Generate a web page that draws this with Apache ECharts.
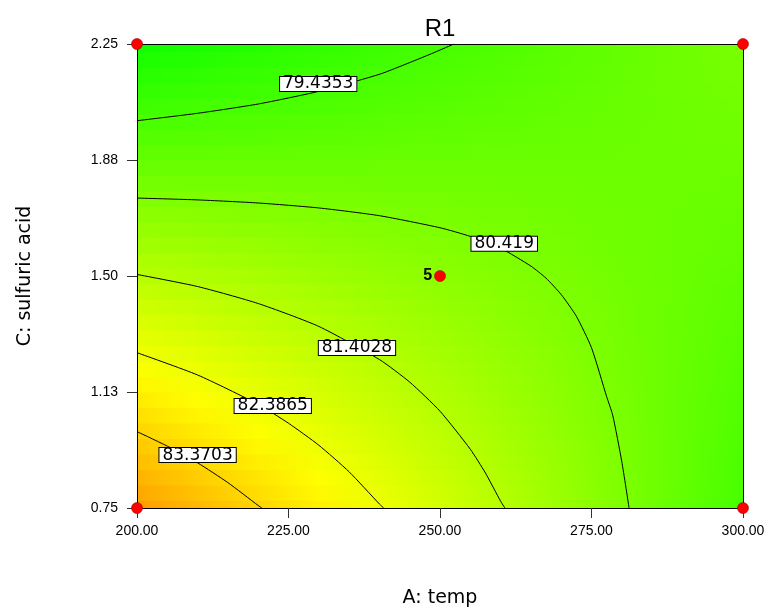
<!DOCTYPE html>
<html><head><meta charset="utf-8">
<script src="https://cdn.jsdelivr.net/npm/echarts@6/dist/echarts.min.js"></script>
<style>html,body{margin:0;padding:0;background:#fff}#c{width:775px;height:609px}</style>
</head><body><div id="c"></div>
<script>
// ---- data ----
const tempValues = [200,210,220,230,240,250,260,270,280,290,300];
const acidValues = [0.75,0.80,0.85,0.90,0.95,1.00,1.05,1.10,1.15,1.20,1.25,1.30,1.35,1.40,1.45,1.50,1.55,1.60,1.65,1.70,1.75,1.80,1.85,1.90,1.95,2.00,2.05,2.10,2.15,2.20,2.25];
// R1 estimated at each (acid row, temp column)
const r1Grid = [
 [84.38,83.89,83.40,82.91,82.41,81.92,81.43,80.94,80.45,79.95,79.46],
 [84.19,83.72,83.25,82.78,82.31,81.84,81.37,80.90,80.43,79.96,79.49],
 [83.99,83.54,83.10,82.65,82.20,81.76,81.31,80.86,80.41,79.97,79.52],
 [83.80,83.37,82.95,82.52,82.10,81.67,81.25,80.82,80.40,79.98,79.55],
 [83.60,83.20,82.80,82.39,81.99,81.59,81.19,80.79,80.39,79.98,79.58],
 [83.40,83.02,82.65,82.27,81.89,81.51,81.13,80.75,80.37,79.99,79.61],
 [83.21,82.85,82.50,82.14,81.78,81.42,81.07,80.71,80.35,80.00,79.64],
 [83.01,82.68,82.35,82.01,81.68,81.34,81.01,80.67,80.34,80.00,79.67],
 [82.82,82.51,82.19,81.88,81.57,81.26,80.95,80.64,80.32,80.01,79.70],
 [82.62,82.33,82.04,81.76,81.47,81.18,80.89,80.60,80.31,80.02,79.73],
 [82.43,82.16,81.89,81.63,81.36,81.09,80.83,80.56,80.29,80.03,79.76],
 [82.23,81.99,81.74,81.50,81.25,81.01,80.77,80.52,80.28,80.03,79.79],
 [82.04,81.82,81.59,81.37,81.15,80.93,80.71,80.48,80.26,80.04,79.82],
 [81.84,81.64,81.44,81.24,81.05,80.85,80.65,80.45,80.25,80.05,79.85],
 [81.65,81.47,81.29,81.12,80.94,80.76,80.59,80.41,80.23,80.06,79.88],
 [81.45,81.30,81.14,80.99,80.83,80.68,80.53,80.37,80.22,80.06,79.91],
 [81.26,81.12,80.99,80.86,80.73,80.60,80.47,80.33,80.20,80.07,79.94],
 [81.06,80.95,80.84,80.73,80.62,80.51,80.40,80.30,80.19,80.08,79.97],
 [80.87,80.78,80.69,80.61,80.52,80.43,80.35,80.26,80.17,80.09,80.00],
 [80.67,80.61,80.54,80.48,80.41,80.35,80.29,80.22,80.16,80.09,80.03],
 [80.47,80.43,80.39,80.35,80.31,80.27,80.22,80.18,80.14,80.10,80.06],
 [80.28,80.26,80.24,80.22,80.20,80.18,80.16,80.15,80.13,80.11,80.09],
 [80.08,80.09,80.09,80.09,80.10,80.10,80.10,80.11,80.11,80.11,80.12],
 [79.89,79.91,79.94,79.97,79.99,80.02,80.04,80.07,80.10,80.12,80.15],
 [79.69,79.74,79.79,79.84,79.89,79.94,79.98,80.03,80.08,80.13,80.18],
 [79.50,79.57,79.64,79.71,79.78,79.85,79.92,80.00,80.07,80.14,80.21],
 [79.30,79.40,79.49,79.58,79.68,79.77,79.86,79.96,80.05,80.14,80.24],
 [79.11,79.22,79.34,79.46,79.57,79.69,79.80,79.92,80.04,80.15,80.27],
 [78.91,79.05,79.19,79.33,79.47,79.61,79.74,79.88,80.02,80.16,80.30],
 [78.72,78.88,79.04,79.20,79.36,79.52,79.68,79.84,80.00,80.17,80.33],
 [78.52,78.70,78.89,79.07,79.26,79.44,79.62,79.81,79.99,80.17,80.36]
];
// contour lines [temp, acid]
const contourLevels = ['79.4353','80.419','81.4028','82.3865','83.3703'];
const contour1 = [[200,2.002],[210,2.026],[220,2.056],[230,2.097],[240,2.152],[245,2.190],[249,2.222],[252.3,2.25]];
const contour2 = [[200,1.752],[210,1.746],[220,1.736],[230,1.720],[240,1.695],[250,1.656],[255,1.628],[260,1.590],[265,1.532],[267.5,1.493],[270,1.440],[272.5,1.370],[275,1.268],[277.5,1.110],[278.5,1.05],[280.0,0.90],[281.2,0.75]];
const contour3 = [[200,1.505],[210,1.466],[220,1.411],[230,1.337],[240,1.230],[245,1.157],[250,1.063],[255,0.940],[257.5,0.863],[260,0.772],[260.7,0.75]];
const contour4 = [[200,1.252],[210,1.180],[220,1.085],[225,1.024],[230,0.953],[235,0.867],[240,0.763],[240.7,0.75]];
const contour5 = [[200,0.997],[205,0.950],[210,0.896],[215,0.832],[220,0.758],[220.6,0.75]];
const contourLabelPos = [[229.9,2.121],[260.6,1.604],[236.3,1.267],[222.4,1.080],[210.0,0.921]];
// design points
const designTemp = [200,200,300,300,250];
const designAcid = [0.75,2.25,0.75,2.25,1.50];
const designLabel = ['','','','','5'];
// ticks
const xTickLabels = ['200.00','225.00','250.00','275.00','300.00'];
const yTickLabels = ['0.75','1.13','1.50','1.88','2.25'];

// ---- colour scale (styling) ----
const scaleVals = [73.8, 78.24, 82.67, 87.1];
const scaleCols = [[0,255,255],[0,255,0],[255,255,0],[255,0,0]];
function colorFor(v){
  if (v <= scaleVals[0]) return 'rgb(' + scaleCols[0].join(',') + ')';
  for (let i = 1; i < scaleVals.length; i++) {
    if (v <= scaleVals[i]) {
      const t = (v - scaleVals[i-1]) / (scaleVals[i] - scaleVals[i-1]);
      const a = scaleCols[i-1], b = scaleCols[i];
      return 'rgb(' + [0,1,2].map(n => Math.round(a[n] + (b[n]-a[n]) * t)).join(',') + ')';
    }
  }
  return 'rgb(' + scaleCols[scaleCols.length-1].join(',') + ')';
}

const t0 = tempValues[0], tN = tempValues[tempValues.length-1];
function renderStrip(params, api){
  const k = api.value(2);
  const c = acidValues[k];
  const cLo = k > 0 ? (acidValues[k-1] + c) / 2 : c;
  const cHi = k < acidValues.length - 1 ? (acidValues[k+1] + c) / 2 : c;
  const p0 = api.coord([t0, cHi]);
  const p1 = api.coord([tN, cLo]);
  const row = r1Grid[k];
  const stops = row.map((v, j) => ({offset: (tempValues[j] - t0) / (tN - t0), color: colorFor(v)}));
  return {
    type: 'rect',
    shape: {x: p0[0], y: p0[1] - 0.6, width: p1[0] - p0[0], height: p1[1] - p0[1] + 1.2},
    style: {fill: {type: 'linear', x: 0, y: 0, x2: 1, y2: 0, colorStops: stops, global: false}, stroke: null}
  };
}

const chart = echarts.init(document.getElementById('c'), null, {renderer: 'canvas'});
const contourSeries = [contour1, contour2, contour3, contour4, contour5].map(d => ({
  type: 'line', data: d, xAxisIndex: 0, yAxisIndex: 0, symbol: 'none', smooth: 0.2,
  lineStyle: {color: '#000', width: 1}, z: 5, silent: true, clip: true
}));

const option = {
  backgroundColor: '#fff',
  animation: false,
  title: {
    text: 'R1', left: 435, top: 12, textAlign: 'center',
    textStyle: {fontFamily: 'Liberation Sans, Arial, sans-serif', fontSize: 24, fontWeight: 'normal', color: '#000'}
  },
  grid: {left: 137, right: 32, top: 44, bottom: 101, containLabel: false, outerBoundsMode: 'none'},
  xAxis: [{
    type: 'value', min: 200, max: 300, interval: 25, z: 10,
    name: 'A: temp', nameLocation: 'middle', nameGap: 81,
    nameTextStyle: {fontFamily: 'DejaVu Sans, sans-serif', fontSize: 19, color: '#000'},
    axisLine: {show: true, lineStyle: {color: '#000', width: 1}},
    axisTick: {show: true, length: 10, lineStyle: {color: '#333'}},
    axisLabel: {margin: 16, fontFamily: 'Liberation Sans, Arial, sans-serif', fontSize: 14, color: '#000',
      formatter: v => xTickLabels[Math.round((v - 200) / 25)]},
    splitLine: {show: false}
  }, {
    type: 'value', position: 'top', min: 200, max: 300, z: 10,
    axisLine: {show: true, onZero: false, lineStyle: {color: '#000', width: 1}},
    axisTick: {show: false}, axisLabel: {show: false}, splitLine: {show: false}
  }],
  yAxis: [{
    type: 'value', min: 0.75, max: 2.25, interval: 0.375, z: 10,
    name: 'C: sulfuric acid', nameLocation: 'middle', nameGap: 102, nameRotate: 90,
    nameTextStyle: {fontFamily: 'DejaVu Sans, sans-serif', fontSize: 19, color: '#000'},
    axisLine: {show: true, lineStyle: {color: '#000', width: 1}},
    axisTick: {show: true, length: 10, lineStyle: {color: '#333'}},
    axisLabel: {margin: 19, fontFamily: 'Liberation Sans, Arial, sans-serif', fontSize: 14, color: '#000',
      formatter: v => yTickLabels[Math.round((v - 0.75) / 0.375)]},
    splitLine: {show: false}
  }, {
    type: 'value', position: 'right', min: 0.75, max: 2.25, z: 10,
    axisLine: {show: true, onZero: false, lineStyle: {color: '#000', width: 1}},
    axisTick: {show: false}, axisLabel: {show: false}, splitLine: {show: false}
  }],
  series: [
    {
      type: 'custom', renderItem: renderStrip, xAxisIndex: 0, yAxisIndex: 0,
      data: acidValues.map((c, k) => [t0, c, k]), encode: {x: 0, y: 1}, z: 1, silent: true, clip: true
    },
    ...contourSeries,
    {
      type: 'scatter', xAxisIndex: 0, yAxisIndex: 0, z: 8, silent: true,
      symbolSize: 1, itemStyle: {color: '#ffffff', opacity: 1},
      data: contourLabelPos.map((p, i) => ({value: p, label: {formatter: contourLevels[i]}})),
      label: {
        show: true, position: 'inside', color: '#000', opacity: 1, fontFamily: 'DejaVu Sans, sans-serif', fontSize: 17,
        backgroundColor: '#ffffff', borderColor: '#000', borderWidth: 1, padding: [0, 3, 0, 3], lineHeight: 14
      }
    },
    {
      type: 'scatter', xAxisIndex: 0, yAxisIndex: 0, z: 12, clip: false, silent: true,
      symbolSize: 11, itemStyle: {color: '#ff0000', borderColor: '#a00000', borderWidth: 0.6, opacity: 1},
      data: designTemp.map((t, i) => ({value: [t, designAcid[i]], label: {show: designLabel[i] !== '', formatter: designLabel[i]}})),
      label: {position: 'left', distance: 2, color: '#000', opacity: 1, fontWeight: 'bold', fontSize: 16,
        fontFamily: 'Liberation Sans, Arial, sans-serif'}
    }
  ]
};
chart.setOption(option);
</script>
</body></html>
